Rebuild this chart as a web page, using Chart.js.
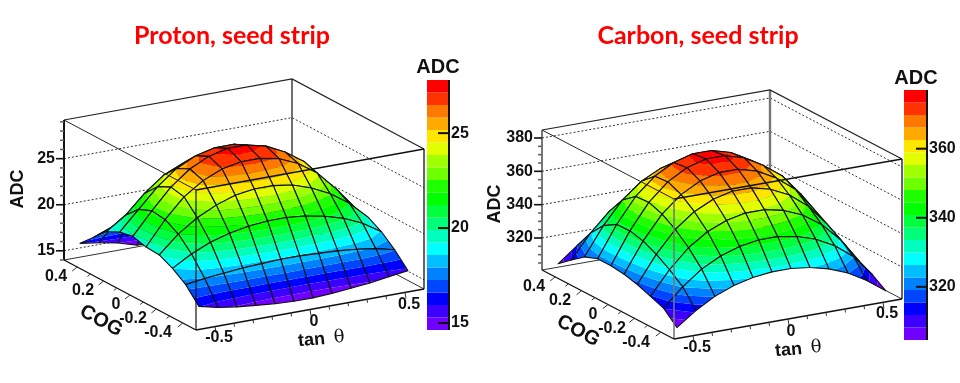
<!DOCTYPE html>
<html><head><meta charset="utf-8">
<style>html,body{margin:0;padding:0;background:#fff}#w{width:960px;height:383px;position:relative}canvas{display:block}</style>
<script src="https://cdn.jsdelivr.net/npm/chart.js@4"></script></head>
<body><div id="w"><canvas id="c"></canvas></div>
<script>
const tanCenters=[-0.55,-0.45,-0.35,-0.25,-0.15,-0.05,0.05,0.15,0.25,0.35,0.45,0.55];
const cogCenters=[-0.45,-0.35,-0.25,-0.15,-0.05,0.05,0.15,0.25,0.35,0.45];
const protonADC=[
[16.0,15.5,15.2,15.0,14.8,14.7,14.7,14.8,15.0,15.2,15.5,15.8],
[17.6,17.9,18.1,18.3,18.4,18.5,18.5,18.4,18.3,18.1,17.8,17.3],
[18.6,19.8,20.7,21.3,21.7,21.9,21.9,21.7,21.3,20.7,19.8,18.5],
[19.3,21.2,22.6,23.6,24.3,24.6,24.6,24.3,23.6,22.6,21.2,19.3],
[19.4,22.0,24.1,25.5,26.4,26.8,26.8,26.4,25.5,24.1,22.0,19.6],
[19.8,22.2,24.4,26.0,27.0,27.5,27.5,27.0,26.0,24.6,22.3,19.3],
[19.5,21.6,23.7,25.3,26.3,26.8,26.8,26.3,25.3,24.4,22.0,18.6],
[18.8,20.2,22.2,23.8,24.7,25.2,25.2,24.7,23.8,22.6,20.4,17.8],
[17.4,18.2,19.3,20.6,21.3,21.8,21.8,21.3,20.6,19.3,17.8,16.6],
[16.0,15.7,15.3,14.7,14.7,14.8,14.8,14.8,14.9,15.1,15.4,15.8]];
const carbonADC=[
[304.6,312.8,319.3,323.8,326.6,328,328,326.6,323.8,319.3,312.8,304.6],
[312,322.9,331.5,337.4,341.1,343,343,341.1,337.4,331.5,322.9,310],
[315,329,340.2,347.8,352.6,355,355,352.6,347.8,340.2,329,314],
[318,334.1,347,355.7,361.2,364,364,361.2,355.7,347,334.1,319],
[320,337.9,352.1,361.8,367.9,371,371,367.9,361.8,353,339,322],
[321,339.9,355,365.3,371.8,375,375,371.8,365.3,357,344,322],
[321,339.6,354.4,364.5,370.8,374,374,370.8,364.5,357,343,321],
[318,334.8,348.2,357.4,363.1,366,366,363.1,357.4,350,338,318],
[312,326,337.2,344.8,349.6,352,352,349.6,344.8,337.2,326,312],
[305.6,314.5,321.6,326.4,329.5,331,331,329.5,326.4,321.6,314.5,305]];
const palette=['#7000ff','#3c00ff','#0000ff','#0046ff','#0082ff','#00beff','#00ffff','#00ffbe','#00ff78','#00ff3c',
'#00ff00','#1eff00','#6eff00','#a0ff00','#e1ff00','#ffe600','#ffaa00','#ff7800','#ff3200','#ff0000'];
const protonZTicks=[15,20,25], carbonZTicks=[320,340,360,380];
const tanTickLabels=['-0.5','0','0.5'], cogTickLabels=['0.4','0.2','0','-0.2','-0.4'];

const proton={o:[196,330],vx:[228,-41],vy:[-132,-70],h:140,zMin:14.0,zMax:29.2,z:protonADC,zTicks:protonZTicks,zMajor:5,zMinor:1,
 barX:[427,449],barY:[80,330],barMin:14.63,barMax:27.8,barTicks:[15,20,25],axisCol:'#111',
 title:['Proton, seed strip',232,36],barTitle:[438,67],zTitle:[18,189],cog:[101,321],tan:[325,339,-5],
 tanL:[[219,338],[314,322],[409,305]],cogL:[[56,277],[83,291],[116,305],[133,319],[158,333]]};
const carbon={o:[674,339],vx:[228,-40],vy:[-132,-69],h:140,zMin:300.8,zMax:384.8,z:carbonADC,zTicks:carbonZTicks,zMajor:20,zMinor:5,
 barX:[904,927],barY:[90,340],barMin:304.6,barMax:377,barTicks:[320,340,360],axisCol:'#777',
 title:['Carbon, seed strip',698,36],barTitle:[916,78],zTitle:[495,204],cog:[578,331],tan:[802,349,-5],
 tanL:[[697,348],[791,332],[887,314]],cogL:[[534,287],[560,301],[593,315],[612,329],[636,343]]};
const panels=[proton,carbon];
const tanR=[-0.6,0.6], cogR=[-0.5,0.5];

function proj(p,t,c,z){
  const a=(t-tanR[0])/(tanR[1]-tanR[0]), b=(c-cogR[0])/(cogR[1]-cogR[0]), d=(z-p.zMin)/(p.zMax-p.zMin)*p.h;
  return {x:p.o[0]+a*p.vx[0]+b*p.vy[0], y:p.o[1]+a*p.vx[1]+b*p.vy[1]-d};
}
const datasets=[];
function seg(pts,col,w,dash){datasets.push({type:'scatter',showLine:true,data:pts,borderColor:col,borderWidth:w,borderDash:dash||[],pointRadius:0,fill:false,tension:0});}
panels.forEach(p=>{
  const T0=tanR[0],T1=tanR[1],C0=cogR[0],C1=cogR[1];
  seg([proj(p,T0,C1,p.zMax),proj(p,T1,C1,p.zMax),proj(p,T1,C0,p.zMax)],'#222',1.2);
  seg([proj(p,T0,C1,p.zMin),proj(p,T1,C1,p.zMin),proj(p,T1,C0,p.zMin)],'#333',1);
  seg([proj(p,T1,C1,p.zMin),proj(p,T1,C1,p.zMax)],p.axisCol,p===carbon?2.4:1.2);
  p.zTicks.forEach(v=>seg([proj(p,T0,C1,v),proj(p,T1,C1,v),proj(p,T1,C0,v)],'#333',1,[2,2]));
  const pts=[];p.z.forEach((r,j)=>r.forEach((v,i)=>pts.push(proj(p,tanCenters[i],cogCenters[j],v))));
  datasets.push({type:'scatter',data:pts,pointRadius:0,showLine:false});
});
function clip(poly,lev,above){
  const out=[];
  for(let i=0;i<poly.length;i++){
    const a=poly[i],b=poly[(i+1)%poly.length];
    const ia=above?a.v>=lev:a.v<=lev, ib=above?b.v>=lev:b.v<=lev;
    if(ia)out.push(a);
    if(ia!==ib){const f=(lev-a.v)/(b.v-a.v);out.push({x:a.x+f*(b.x-a.x),y:a.y+f*(b.y-a.y),v:lev});}
  }
  return out;
}
const drawPlugin={id:'surface3d',afterDatasetsDraw(chart){
  const ctx=chart.ctx,sx=chart.scales.x,sy=chart.scales.y;
  const X=v=>sx.getPixelForValue(v),Y=v=>sy.getPixelForValue(v);
  const line=(a,b,col,w)=>{ctx.beginPath();ctx.moveTo(X(a.x),Y(a.y));ctx.lineTo(X(b.x),Y(b.y));ctx.strokeStyle=col;ctx.lineWidth=w;ctx.setLineDash([]);ctx.stroke();};
  const txt=(s,x,y,font,col,al,rot)=>{ctx.save();ctx.translate(X(x),Y(y));if(rot)ctx.rotate(rot*Math.PI/180);ctx.font=font;ctx.fillStyle=col||'#111';ctx.textAlign=al||'center';ctx.textBaseline='middle';ctx.fillText(s,0,0);ctx.restore();};
  panels.forEach(p=>{
    const band=(p.barMax-p.barMin)/palette.length;
    for(let j=cogCenters.length-2;j>=0;j--)for(let i=tanCenters.length-2;i>=0;i--){
      const v=[[i,j],[i+1,j],[i+1,j+1],[i,j+1]].map(([a,b])=>{const q=proj(p,tanCenters[a],cogCenters[b],p.z[b][a]);return {x:q.x,y:q.y,v:p.z[b][a]};});
      palette.forEach((col,k)=>{
        const lo=k===0?-1e9:p.barMin+k*band, hi=k===palette.length-1?1e9:p.barMin+(k+1)*band;
        let poly=clip(v,lo,true);if(poly.length)poly=clip(poly,hi,false);
        if(poly.length<3)return;
        ctx.beginPath();poly.forEach((q,n)=>n?ctx.lineTo(X(q.x),Y(q.y)):ctx.moveTo(X(q.x),Y(q.y)));ctx.closePath();
        ctx.fillStyle=col;ctx.fill();
      });
      ctx.beginPath();v.forEach((q,n)=>n?ctx.lineTo(X(q.x),Y(q.y)):ctx.moveTo(X(q.x),Y(q.y)));ctx.closePath();
      ctx.strokeStyle='#111';ctx.lineWidth=1.1;ctx.setLineDash([]);ctx.lineJoin='round';ctx.stroke();
    }
    const T0=tanR[0],T1=tanR[1],C0=cogR[0],C1=cogR[1];
    line(proj(p,T0,C1,p.zMax),proj(p,T0,C0,p.zMax),'#222',1);
    line(proj(p,T0,C0,p.zMax),proj(p,T1,C0,p.zMax),'#111',1.3);
    line(proj(p,T0,C0,p.zMin),proj(p,T0,C0,p.zMax),p.axisCol,p===carbon?1.6:1.2);
    line(proj(p,T1,C0,p.zMin),proj(p,T1,C0,p.zMax),'#111',1.3);
    line(proj(p,T0,C1,p.zMin),proj(p,T0,C1,p.zMax),p===carbon?'#555':'#111',p===carbon?1.6:2);
    line(proj(p,T0,C1,p.zMin),proj(p,T0,C0,p.zMin),'#111',1.4);
    line(proj(p,T0,C0,p.zMin),proj(p,T1,C0,p.zMin),'#111',1.6);
    const zStart=Math.ceil(p.zMin/p.zMinor)*p.zMinor;
    for(let v=zStart;v<=p.zMax;v+=p.zMinor){
      const q=proj(p,T0,C1,v),maj=Math.abs(v%p.zMajor)<1e-6;
      line({x:q.x-(maj?8:4),y:q.y},q,maj?'#111':'#666',1.6);
    }
    for(let n=-5;n<=5;n++){
      const q=proj(p,n/10,C0,p.zMin),maj=n%5===0;
      line(q,{x:q.x+(maj?1:.5),y:q.y+(maj?6:3.5)},'#333',1);
    }
    for(let n=-4;n<=4;n++){
      const q=proj(p,T0,n/10,p.zMin),maj=n%2===0;
      line(q,{x:q.x-(maj?5:3),y:q.y+(maj?4:2.5)},'#333',1);
    }
    const by=v=>p.barY[1]-(v-p.barMin)/(p.barMax-p.barMin)*(p.barY[1]-p.barY[0]);
    palette.forEach((col,k)=>{
      const t=by(p.barMin+(k+1)*band),b=by(p.barMin+k*band);
      ctx.fillStyle=col;ctx.fillRect(X(p.barX[0]),Y(t),p.barX[1]-p.barX[0],b-t);
    });
    line({x:p.barX[1],y:p.barY[0]},{x:p.barX[1],y:p.barY[1]},'#111',2);
    p.barTicks.forEach(v=>{line({x:p.barX[1]-11,y:by(v)},{x:p.barX[1],y:by(v)},'#111',2);
      txt(String(v),p.barX[1]+2,by(v),'bold 16px "Liberation Sans"','#111','left');});
    const tf='bold 16px "Liberation Sans"';
    p.zTicks.forEach(v=>{const q=proj(p,T0,C1,v);txt(String(v),q.x-9,q.y,tf,'#111','right');});
    tanTickLabels.forEach((s,n)=>txt(s,p.tanL[n][0],p.tanL[n][1],tf));
    cogTickLabels.forEach((s,n)=>txt(s,p.cogL[n][0],p.cogL[n][1],tf));
    txt(p.title[0],p.title[1],p.title[2],'bold 25px Lato','#f00');
    txt('ADC',p.barTitle[0],p.barTitle[1],'bold 20px "Liberation Sans"','#111');
    txt('ADC',p.zTitle[0],p.zTitle[1],'bold 18px "Liberation Sans"','#111','center',-90);
    txt('COG',p.cog[0],p.cog[1],'bold 20px "Liberation Sans"','#111','center',29);
    ctx.save();ctx.translate(X(p.tan[0]),Y(p.tan[1]));ctx.rotate(p.tan[2]*Math.PI/180);
    ctx.font='bold 18px "Liberation Sans"';ctx.fillStyle='#111';ctx.textAlign='right';ctx.textBaseline='middle';ctx.fillText('tan',0,0);
    ctx.font='18px "DejaVu Serif"';ctx.textAlign='left';ctx.fillText('θ',9,0);ctx.restore();
  });
}};
new Chart(document.getElementById('c'),{type:'scatter',data:{datasets},plugins:[drawPlugin],options:{
  responsive:true,maintainAspectRatio:false,animation:false,
  layout:{padding:0},
  plugins:{legend:{display:false},tooltip:{enabled:false}},
  scales:{x:{type:'linear',min:0,max:960,display:false},y:{type:'linear',min:0,max:383,reverse:true,display:false}}
}});
</script></body></html>
